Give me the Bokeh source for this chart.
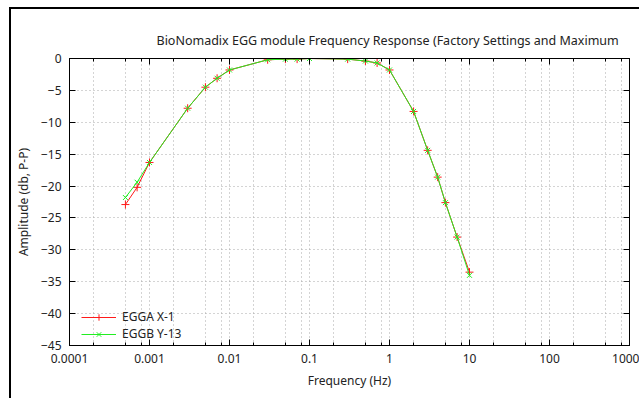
from bokeh.plotting import figure
from bokeh.models import FixedTicker, LogAxis, LinearAxis
from bokeh.embed import file_html
from bokeh.resources import INLINE

# ---- data ----
freq = [0.0005, 0.0007, 0.001, 0.003, 0.005, 0.007, 0.01, 0.03, 0.05, 0.07,
        0.1, 0.3, 0.5, 0.7, 1, 2, 3, 4, 5, 7, 10]
egga_x1 = [-22.9, -20.2, -16.3, -7.8, -4.5, -3.1, -1.8, -0.2, -0.1, -0.1,
           0.0, -0.1, -0.4, -0.7, -1.8, -8.3, -14.4, -18.6, -22.6, -28.0, -33.5]
eggb_y13 = [-21.8, -19.4, -16.3, -7.8, -4.5, -3.1, -1.8, -0.2, -0.1, -0.1,
            0.0, -0.1, -0.4, -0.7, -1.8, -8.3, -14.4, -18.6, -22.6, -28.0, -34.0]

x_major = [0.0001, 0.001, 0.01, 0.1, 1, 10, 100, 1000]
x_labels = ["0.0001", "0.001", "0.01", "0.1", "1", "10", "100", "1000"]
x_minor_mult = [2, 5, 8]
y_ticks = [0, -5, -10, -15, -20, -25, -30, -35, -40, -45]

title_text = "BioNomadix EGG module Frequency Response (Factory Settings and Maximum"
x_title = "Frequency (Hz)"
y_title = "Amplitude (db, P-P)"
series_names = ["EGGA X-1", "EGGB Y-13"]

FONT = "Noto Sans"
GRID = "#a8a8a8"

x_minor = [d * m for d in x_major[:-1] for m in x_minor_mult]
xticker = FixedTicker(ticks=x_major, minor_ticks=x_minor)
yticker = FixedTicker(ticks=y_ticks, minor_ticks=[])

p = figure(width=630, height=391, x_axis_type="log",
           x_range=(0.0001, 1000), y_range=(-45, 0),
           output_backend="svg", toolbar_location=None,
           min_border_left=56, min_border_right=12,
           min_border_top=49, min_border_bottom=55)
p.styles = {"margin-left": "9px", "margin-top": "7px",
            "border-left": "2px solid black", "border-top": "2px solid black"}

p.outline_line_color = "black"
p.outline_line_width = 1
p.background_fill_color = "white"
p.border_fill_color = "white"

# title (runs off the right edge like the reference)
p.title.text = title_text
p.title.align = "left"
p.title.offset = 87
p.title.standoff = 19
p.title.text_font = FONT
p.title.text_font_size = "12.5px"
p.title.text_font_style = "normal"
p.title.text_color = "#222222"

# main axes
for ax in (p.xaxis[0], p.yaxis[0]):
    ax.axis_line_color = "black"
    ax.major_tick_in = 6
    ax.major_tick_out = 0
    ax.minor_tick_in = 3
    ax.minor_tick_out = 0
    ax.major_tick_line_color = "black"
    ax.minor_tick_line_color = "black"
    ax.major_label_text_font = FONT
    ax.major_label_text_font_size = "12px"
    ax.major_label_text_color = "#222222"
    ax.axis_label_text_font = FONT
    ax.axis_label_text_font_size = "12px"
    ax.axis_label_text_font_style = "normal"
    ax.axis_label_text_color = "#222222"

p.xaxis[0].ticker = xticker
p.xaxis[0].major_label_overrides = {v: s for v, s in zip(x_major, x_labels)}
p.xaxis[0].major_label_standoff = 8
p.xaxis[0].axis_label = x_title
p.xaxis[0].axis_label_standoff = 6

p.yaxis[0].ticker = yticker
p.yaxis[0].major_label_standoff = 8
p.yaxis[0].axis_label = y_title
p.yaxis[0].axis_label_standoff = 6

# mirrored tick marks on top and right (no labels)
top = LogAxis(ticker=xticker, major_tick_in=6, major_tick_out=0,
              minor_tick_in=3, minor_tick_out=0,
              major_label_overrides={v: "" for v in x_major},
              major_label_standoff=0, axis_line_color="black")
right = LinearAxis(ticker=yticker, major_tick_in=6, major_tick_out=0,
                   minor_tick_line_color=None,
                   major_label_overrides={v: "" for v in y_ticks},
                   major_label_standoff=0, axis_line_color="black")
p.add_layout(top, "above")
p.add_layout(right, "right")

# grid
p.xgrid.ticker = xticker
p.ygrid.ticker = yticker
for g in (p.xgrid[0], p.ygrid[0]):
    g.grid_line_color = GRID
    g.grid_line_dash = "1 3"
    g.grid_line_width = 1
p.xgrid.minor_grid_line_color = GRID
p.xgrid.minor_grid_line_dash = "1 3"

# series
RED = "#ff1a1a"
GREEN = "#22ee22"
p.line(freq, egga_x1, line_color=RED, line_width=1, legend_label=series_names[0])
p.scatter(freq, egga_x1, marker="cross", size=8, line_color=RED, line_width=1,
          legend_label=series_names[0])
p.line(freq, eggb_y13, line_color=GREEN, line_width=1, legend_label=series_names[1])
p.scatter(freq, eggb_y13, marker="x", size=7, line_color=GREEN, line_width=1,
          legend_label=series_names[1])

lg = p.legend[0]
lg.location = (12, 3)
lg.background_fill_alpha = 0
lg.border_line_color = None
lg.label_text_font = FONT
lg.label_text_font_size = "12px"
lg.label_text_color = "#222222"
lg.glyph_width = 35
lg.glyph_height = 16
lg.label_height = 16
lg.spacing = 0
lg.padding = 2
lg.margin = 0
lg.label_standoff = 6

open("out.html", "w").write(file_html(p, INLINE))
